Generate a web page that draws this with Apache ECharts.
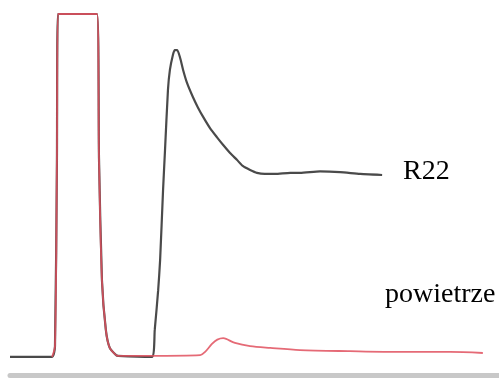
<!DOCTYPE html>
<html>
<head>
<meta charset="utf-8">
<script src="https://cdn.jsdelivr.net/npm/echarts@6/dist/echarts.min.js"></script>
<style>html,body{margin:0;padding:0;background:#fff;}#c{width:499px;height:380px;}</style>
</head>
<body>
<div id="c"></div>
<script>
// time (arbitrary units, 0..100) and detector signal (0..100, clipped at top)
var r22Data = [
  [0,5.0],[8.6,5.0],[9.2,8],[9.6,60],[9.8,100],[17.8,100],[18.2,60],[18.8,26.3],[19.6,12.5],[20.4,7.5],[21.7,5.5],[22.1,5.3],
  [29.0,5.0],[29.6,12.5],[30.3,23.5],[30.7,31.9],[31.3,51.2],[31.7,62.3],[32.3,78.9],[32.7,84.5],[33.3,88.6],[33.7,90.0],[34.2,90.0],
  [34.8,87.8],[35.4,84.5],[36.2,80.9],[37.4,77.0],[38.4,74.2],[39.5,71.5],[40.9,68.4],[42.3,65.9],[43.6,63.7],
  [45.0,61.5],[46.4,59.6],[47.6,57.9],[49.1,56.8],[50.5,56.0],[52.1,55.7],[54.2,55.7],[57.3,56.0],[59.3,56.0],
  [63.4,56.4],[67.5,56.2],[71.6,55.7],[76.1,55.4]
];
var airData = [
  [8.6,5.0],[9.2,8],[9.6,60],[9.8,100],[17.8,100],[18.2,60],[18.8,26.3],[19.6,12.5],[20.4,7.5],[21.7,5.5],[22.1,5.3],
  [28.6,5.3],[38.9,5.5],[39.9,6.4],[41.3,8.6],[42.4,9.8],[43.6,10.2],[44.2,10.0],[46.0,8.9],[49.1,8.0],[53.2,7.5],
  [59.3,6.9],[69.5,6.6],[79.8,6.4],[90,6.4],[96.7,6.1]
];
var labels = ['R22', 'powietrze'];

var chart = echarts.init(document.getElementById('c'), null, {renderer:'canvas'});
chart.setOption({
  animation: false,
  backgroundColor: '#ffffff',
  grid: {left: 10, right: 0, top: 14, bottom: 5},
  xAxis: {
    type: 'value', min: 0, max: 100,
    axisLine: {show: true, lineStyle: {color: '#c8c8c8', width: 5}},
    axisTick: {show: false},
    axisLabel: {show: false},
    splitLine: {show: false}
  },
  yAxis: {
    type: 'value', min: 0, max: 100,
    axisLine: {show: false}, axisTick: {show: false}, axisLabel: {show: false}, splitLine: {show: false}
  },
  series: [
    {name: labels[0], type: 'line', data: r22Data, showSymbol: false, smooth: 0.2, z: 2,
     lineStyle: {color: '#4a4a4a', width: 2.2}},
    {name: labels[1], type: 'line', data: airData, showSymbol: false, smooth: 0.3, z: 3,
     lineStyle: {color: '#e0505e', width: 1.8, opacity: 0.85}}
  ],
  graphic: [
    {type: 'text', left: 403, top: 158, style: {text: labels[0], font: '28px "Liberation Serif"', fill: '#000'}},
    {type: 'text', left: 385, top: 281, style: {text: labels[1], font: '28px "Liberation Serif"', fill: '#000'}}
  ]
});
</script>
</body>
</html>
